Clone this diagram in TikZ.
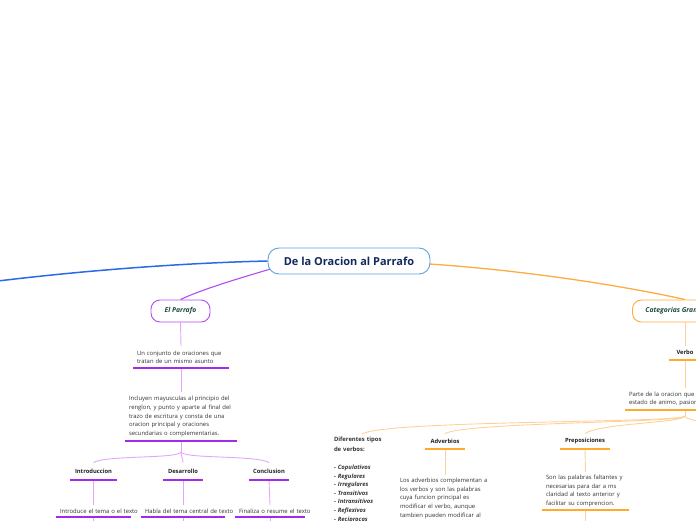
\documentclass[tikz,border=0pt]{standalone}
\usepackage{fontspec}
\setmainfont{Open Sans}
\usetikzlibrary{backgrounds,calc}
\definecolor{rootblue}{HTML}{5AA5DC}
\definecolor{navy}{HTML}{102A5C}
\definecolor{mainblue}{HTML}{2A6AE8}
\definecolor{purp}{HTML}{B44CF0}
\definecolor{lpurp}{HTML}{E2A6FA}
\definecolor{upurp}{HTML}{A32AE8}
\definecolor{dgreen}{HTML}{1D4A3C}
\definecolor{orng}{HTML}{FFAB40}
\definecolor{lorng}{HTML}{FFD199}
\definecolor{uorng}{HTML}{FFA92E}
\definecolor{txt}{HTML}{333333}
\definecolor{txthead}{HTML}{222222}
\tikzset{
  rootbox/.style={draw=rootblue, line width=0.9pt, fill=white, rounded corners=11pt,
    minimum width=162pt, minimum height=26pt, text=navy,
    font=\bfseries\fontsize{11}{13}\selectfont},
  topicbox/.style={fill=white, line width=0.9pt, rounded corners=9pt,
    minimum height=22pt, text=dgreen, font=\bfseries\itshape\fontsize{6.8}{8}\selectfont},
  bodytxt/.style={align=left, inner xsep=4pt, inner ysep=4pt, text=txt,
    font=\fontsize{5.9}{8.6}\selectfont},
  headtxt/.style={inner sep=0pt, text=txthead, font=\bfseries\fontsize{5.8}{7}\selectfont},
  ulp/.style={upurp, line width=1.5pt},
  ulo/.style={uorng, line width=1.5pt},
  vlp/.style={lpurp, line width=0.9pt},
  vlo/.style={lorng, line width=0.9pt},
}
\begin{document}
\begin{tikzpicture}[x=1pt,y=-1pt]
\useasboundingbox (0,0) rectangle (696,520);
\clip (0,0) rectangle (696,520);

% root
\node[rootbox] (root) at (349,261) {De la Oracion al Parrafo};

% left branch
\node[topicbox, draw=purp, minimum width=59pt] (parrafo) at (180.5,311) {El Parrafo};
\node[bodytxt, text width=88pt, anchor=south] (t1) at (181,368)
  {Un conjunto de oraciones que\\tratan de un mismo asunto};
\node[bodytxt, text width=104pt, anchor=south] (t2) at (181,441)
  {Incluyen mayusculas al principio del\\renglon, y punto y aparte al final del\\trazo de escritura y consta de una\\oracion principal y oraciones\\secundarias o complementarias.};
\coordinate (j1) at (181,452);
\node[headtxt, minimum width=47pt, minimum height=17pt, anchor=south] (intro) at (93.5,480) {Introduccion};
\node[headtxt, minimum width=40pt, minimum height=17pt, anchor=south] (des) at (183,480) {Desarrollo};
\node[headtxt, minimum width=40pt, minimum height=17pt, anchor=south] (conc) at (269,480) {Conclusion};
\node[bodytxt, text width=67pt, inner ysep=3.5pt, anchor=south] (introtxt) at (93.5,517) {\mbox{Introduce el tema o el texto}};
\node[bodytxt, text width=76pt, inner ysep=3.5pt, anchor=south] (destxt) at (183,517) {\mbox{Habla del tema central de texto}};
\node[bodytxt, text width=62pt, inner ysep=3.5pt, anchor=south] (conctxt) at (270,517) {\mbox{Finaliza o resume el texto}};
\coordinate (b1) at (93.5,530);
\coordinate (b2) at (183,530);
\coordinate (b3) at (270,530);

% right branch
\node[topicbox, draw=orng, anchor=west, inner xsep=13pt] (cat) at (632,311) {Categorias Gramaticales};
\node[headtxt, minimum width=32pt, minimum height=14pt, anchor=south] (verbo) at (685,360) {Verbo};
\node[bodytxt, text width=112pt, inner ysep=3.5pt, anchor=south] (vtxt) at (685,410)
  {Parte de la oracion que expresa\\estado de animo, pasion};
\coordinate (j2) at (685,416);
\node[bodytxt, text width=56pt, inner xsep=0pt, inner ysep=3pt, anchor=north] (tipos) at (362,434)
  {\textbf{Diferentes tipos\\[1.5pt]de verbos:}\\[9pt]
   \textbf{- \textit{Copulativos}}\\\textbf{- \textit{Regulares}}\\\textbf{- \textit{Irregulares}}\\
   \textbf{- \textit{Transitivos}}\\\textbf{- \textit{Intransitivos}}\\\textbf{- \textit{Reflexivos}}\\
   \textbf{- \textit{Reciprocos}}};
\node[headtxt, minimum width=40pt, minimum height=15pt, anchor=south] (adv) at (445,449) {Adverbios};
\node[headtxt, minimum width=50pt, minimum height=15pt, anchor=south] (prep) at (585,449) {Preposiciones};
\node[bodytxt, text width=90pt, inner xsep=0pt, inner ysep=3pt, anchor=north] (advtxt) at (445,475)
  {Los adverbios complementan a\\los verbos y son las palabras\\cuya funcion principal es\\modificar el verbo, aunque\\tambien pueden modificar al};
\node[bodytxt, text width=79pt, inner xsep=4pt, inner ysep=3pt, anchor=south] (preptxt) at (585.5,510)
  {Son las palabras faltantes y\\necesarias para dar a ms\\claridad al texto anterior y\\facilitar su comprencion.};
\coordinate (b4) at (585.5,530);
\coordinate (lft) at (-2,281);
\coordinate (rgt) at (770,436);

% underlines
\foreach \n in {t1,t2,intro,des,conc,introtxt,destxt,conctxt}
  \draw[ulp] (\n.south west) -- (\n.south east);
\foreach \n in {verbo,vtxt,adv,prep,preptxt}
  \draw[ulo] (\n.south west) -- (\n.south east);

\begin{scope}[on background layer]
  \draw[mainblue, line width=1.5pt] (root.west) .. controls (180,263) and (80,271) .. (lft);
  \draw[purp, line width=1.1pt] ($(root.west)+(3,8)$) .. controls (240,278) and (200,290) .. (parrafo.north);
  \draw[orng, line width=1.3pt] ($(root.east)+(-1,3)$) .. controls (520,270) and (620,285) .. (cat.north);
  % left subtree
  \draw[vlp] (parrafo.south) -- (t1.north);
  \draw[vlp] (t1.south) -- (t2.north);
  \draw[vlp] (t2.south) -- (j1);
  \draw[vlp] (j1) .. controls (178,459) and (105,455) .. (intro.north);
  \draw[vlp] (j1) .. controls (181,457) and (183,458) .. (des.north);
  \draw[vlp] (j1) .. controls (184,459) and (257,455) .. (conc.north);
  \draw[vlp] (intro.south) -- (introtxt.north);
  \draw[vlp] (des.south) -- (destxt.north);
  \draw[vlp] (conc.south) -- (conctxt.north);
  \draw[vlp] (introtxt.south) -- (b1);
  \draw[vlp] (destxt.south) -- (b2);
  \draw[vlp] (conctxt.south) -- (b3);
  % right subtree
  \draw[vlo] (cat.south -| verbo.north) -- (verbo.north);
  \draw[vlo] (verbo.south) -- (vtxt.north);
  \draw[vlo] (vtxt.south) -- (j2);
  \draw[vlo] (j2) .. controls (684,423) and (385,420) .. (tipos.north);
  \draw[vlo] (j2) .. controls (684,423) and (465,422) .. (adv.north);
  \draw[vlo] (j2) .. controls (683,423) and (600,423) .. (prep.north);
  \draw[vlo] (j2) .. controls (686,423) and (740,424) .. (rgt);
  \draw[vlo] (adv.south) -- (advtxt.north);
  \draw[vlo] (prep.south) -- (preptxt.north);
  \draw[vlo] (preptxt.south) -- (b4);
\end{scope}
\end{tikzpicture}
\end{document}
